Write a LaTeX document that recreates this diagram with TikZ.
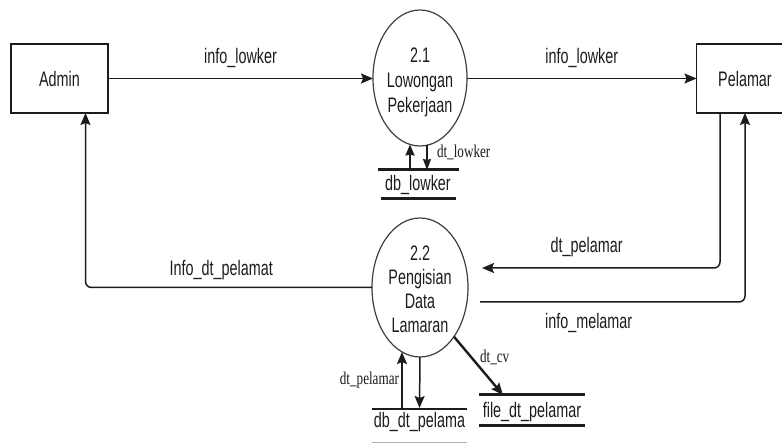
\documentclass[tikz,border=0pt]{standalone}
\usepackage{fontspec}
\setmainfont{Liberation Sans}[FakeStretch=0.685]
\newfontfamily\flowserif{Liberation Serif}[FakeStretch=0.73]
\usetikzlibrary{arrows.meta,calc,shapes.geometric}
\definecolor{ink}{HTML}{1C1C1C}
\newcommand\dfdtext{\fontsize{21}{24}\selectfont}
\newcommand\dfdsmall{\flowserif\fontsize{18}{20}\selectfont}

\begin{document}
\begin{tikzpicture}[x=1pt,y=-1pt,
  every node/.style={inner sep=0pt, outer sep=0pt, text=ink},
  entity/.style={draw=ink, line width=1.3pt, minimum width=97pt, minimum height=69pt, font=\dfdtext},
  proc/.style={draw=ink!85, line width=1.2pt, ellipse},
  proctext/.style={align=center, font=\dfdtext},
  store/.style={font=\dfdtext},
  flow/.style={draw=ink, line width=1.5pt, rounded corners=6pt, -{Stealth[length=12pt,width=10pt,inset=2pt]}},
  flowlbl/.style={font=\dfdtext},
  dblbl/.style={font=\dfdsmall},
  thickedge/.style={draw=ink, line width=3pt},
  thinedge/.style={draw=ink, line width=1.3pt}]

\useasboundingbox (0,0) rectangle (782,443);
\clip (0,0) rectangle (782,443);

% external entities
\node[entity] (admin) at (59.5,78.5) {Admin};
\node[entity] (pel) at (745,78.5) {Pelamar};

% processes
\node[proc, minimum width=94pt, minimum height=136pt] (p21) at (420,78) {};
\node[proctext, font=\fontsize{21}{25}\selectfont, yshift=-4pt] (t21) at (p21) {2.1\\Lowongan\\Pekerjaan};
\node[proc, minimum width=96pt, minimum height=139pt] (p22) at (420,287.5) {};
\node[proctext, yshift=-1.5pt] (t22) at (p22) {2.2\\Pengisian\\Data\\Lamaran};

% data stores
\node[store, minimum width=81pt, minimum height=29pt] (dbl) at (418,184.5) {db\_lowker};
\draw[thickedge] (dbl.north west) -- (dbl.north east);
\draw[thickedge] ([xshift=3pt]dbl.south west) -- ([xshift=-3pt]dbl.south east);

\node[minimum width=95pt, minimum height=33pt] (dbd) at (419.5,425.5) {};
\node[store, yshift=3pt] (tdbd) at (dbd) {db\_dt\_pelama};
\draw[thinedge] (dbd.north west) -- (dbd.north east);
\draw[draw=ink!35, line width=0.8pt] (dbd.south west) -- (dbd.south east);

\node[minimum width=106pt, minimum height=31pt] (fdp) at (532,410.5) {};
\node[store, yshift=-1.5pt] (tfdp) at (fdp) {file\_dt\_pelamar};
\draw[thickedge] (fdp.north west) -- (fdp.north east);
\draw[thickedge] (fdp.south west) -- (fdp.south east);

% flows between entities and processes
\draw[flow] (admin.east) -- node[flowlbl, yshift=21pt] {info\_lowker} (p21.west |- admin.east);
\draw[flow] (p21.east |- pel.west) -- node[flowlbl, yshift=21pt] {info\_lowker} (pel.west);

\draw[flow] ([xshift=-25pt]pel.south) |- node[flowlbl, pos=0.78, yshift=21pt] {dt\_pelamar} ([xshift=14pt,yshift=19.5pt]p22.east);
\draw[flow] ([xshift=12pt,yshift=-14.5pt]p22.east) -| node[flowlbl, pos=0.205, yshift=-21pt] {info\_melamar} (pel.south);
\draw[flow] (p22.west) -| node[flowlbl, pos=0.263, yshift=17pt] {Info\_dt\_pelamat} ([xshift=26pt]admin.south);

% flows to and from the stores
\draw[flow, -{Stealth[length=11pt,width=9pt,inset=1pt]}, line width=2pt] ([xshift=-8pt]dbl.north) -- ([xshift=-10pt,yshift=1.5pt]p21.south);
\draw[flow, -{Stealth[length=11pt,width=8pt,inset=1pt]}] ([xshift=7pt,yshift=0.7pt]p21.south) -- node[dblbl, pos=0.3, anchor=west, xshift=10pt] {dt\_lowker} ([xshift=9pt]dbl.north);

\draw[flow] ([xshift=-17.5pt]dbd.north) -- node[dblbl, anchor=east, xshift=-3pt] {dt\_pelamar} ([xshift=-18pt,yshift=5pt]p22.south);
\draw[flow] (p22.south) -- ([yshift=1pt]dbd.north);

\draw[flow, line width=2.4pt] (p22.south east) -- node[dblbl, pos=0.35, anchor=west, xshift=9pt] {dt\_cv} ([xshift=-29pt]fdp.north);

\end{tikzpicture}
\end{document}
